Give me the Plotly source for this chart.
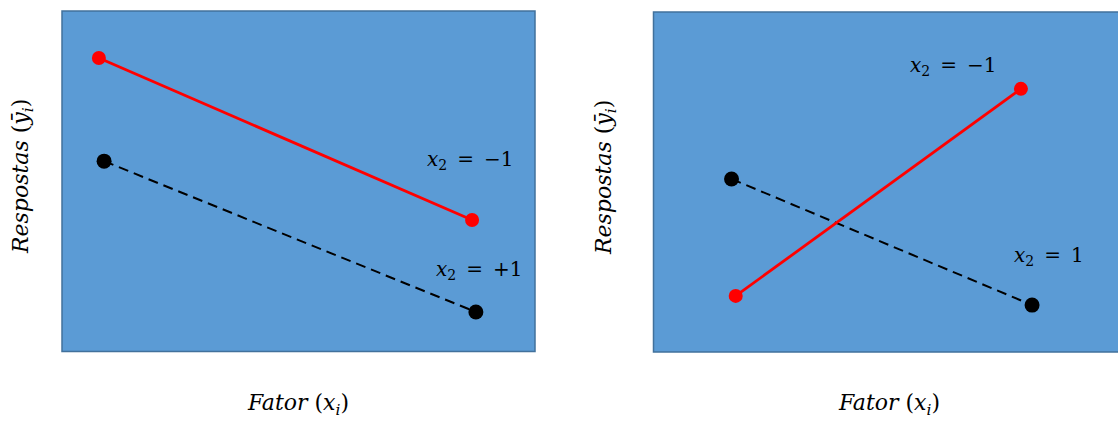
import plotly.graph_objects as go

W, H = 1118, 421

# Panel A: parallel responses (no interaction)
a_red_x = [0.78, 8.67]
a_red_y = [8.62, 3.86]
a_blk_x = [0.89, 8.75]
a_blk_y = [5.59, 1.16]
a_labels = ["<i>x</i><sub>2</sub>\u2002=\u2002−1", "<i>x</i><sub>2</sub>\u2002=\u2002+1"]
a_label_x = [8.62, 8.82]
a_label_y = [5.62, 2.39]

# Panel B: crossing responses (interaction)
b_red_x = [1.77, 7.91]
b_red_y = [1.65, 7.74]
b_blk_x = [1.68, 8.15]
b_blk_y = [5.09, 1.38]
b_labels = ["<i>x</i><sub>2</sub>\u2002=\u2002−1", "<i>x</i><sub>2</sub>\u2002=\u20021"]
b_label_x = [6.45, 8.52]
b_label_y = [8.41, 2.82]

y_title = "<i>Respostas</i> (<i>ȳ</i><sub><i>i</i></sub>)"
x_title = "<i>Fator</i> (<i>x</i><sub><i>i</i></sub>)"

FILL = "#5B9BD5"
EDGE = "#41719C"
FONT = "DejaVu Serif"

# panel boxes in pixels (left, top, right, bottom)
box_a = (62, 11, 535, 351.5)
box_b = (653.5, 12, 1118, 352)


def dom(box):
    l, t, r, b = box
    return [l / W, min(r / W, 1.0)], [1 - b / H, 1 - t / H]


fig = go.Figure()

for red_x, red_y, blk_x, blk_y, xa, ya in [
    (a_red_x, a_red_y, a_blk_x, a_blk_y, "x", "y"),
    (b_red_x, b_red_y, b_blk_x, b_blk_y, "x2", "y2"),
]:
    fig.add_trace(go.Scatter(
        x=blk_x, y=blk_y, mode="lines+markers", xaxis=xa, yaxis=ya,
        line=dict(color="black", width=2, dash="10px,6px"),
        marker=dict(color="black", size=15), showlegend=False,
    ))
    fig.add_trace(go.Scatter(
        x=red_x, y=red_y, mode="lines+markers", xaxis=xa, yaxis=ya,
        line=dict(color="#FF0000", width=2.8),
        marker=dict(color="#FF0000", size=14), showlegend=False,
    ))

xd_a, yd_a = dom(box_a)
xd_b, yd_b = dom(box_b)
ax = dict(range=[0, 10], visible=False, fixedrange=True)

shapes = []
for (l, t, r, b) in (box_a, (box_b[0], box_b[1], W + 4, box_b[3])):
    shapes.append(dict(
        type="rect", xref="paper", yref="paper",
        x0=l / W, x1=r / W, y0=1 - b / H, y1=1 - t / H,
        fillcolor=FILL, line=dict(color=EDGE, width=1.5), layer="below",
    ))

annotations = []
for labels, lx, ly, xa, ya in [
    (a_labels, a_label_x, a_label_y, "x", "y"),
    (b_labels, b_label_x, b_label_y, "x2", "y2"),
]:
    for t, x, y in zip(labels, lx, ly):
        annotations.append(dict(
            text=t, x=x, y=y, xref=xa, yref=ya, showarrow=False,
            xanchor="center", yanchor="middle",
            font=dict(family=FONT, size=20, color="black"),
        ))

for cx in (298, 889):
    annotations.append(dict(
        text=x_title, x=cx / W, y=1 - 404 / H, xref="paper", yref="paper",
        xanchor="center", yanchor="middle", showarrow=False,
        font=dict(family=FONT, size=22, color="black"),
    ))
for cx, cy in ((22, 177), (605, 178)):
    annotations.append(dict(
        text=y_title, x=cx / W, y=1 - cy / H, xref="paper", yref="paper",
        xanchor="center", yanchor="middle",
        textangle=-90, showarrow=False,
        font=dict(family=FONT, size=22, color="black"),
    ))

fig.update_layout(
    width=W, height=H, margin=dict(l=0, r=0, t=0, b=0),
    paper_bgcolor="white", plot_bgcolor="rgba(0,0,0,0)",
    xaxis=dict(domain=xd_a, anchor="y", **ax),
    yaxis=dict(domain=yd_a, anchor="x", **ax),
    xaxis2=dict(domain=xd_b, anchor="y2", **ax),
    yaxis2=dict(domain=yd_b, anchor="x2", **ax),
    shapes=shapes, annotations=annotations,
)

fig.write_html("out.html")
